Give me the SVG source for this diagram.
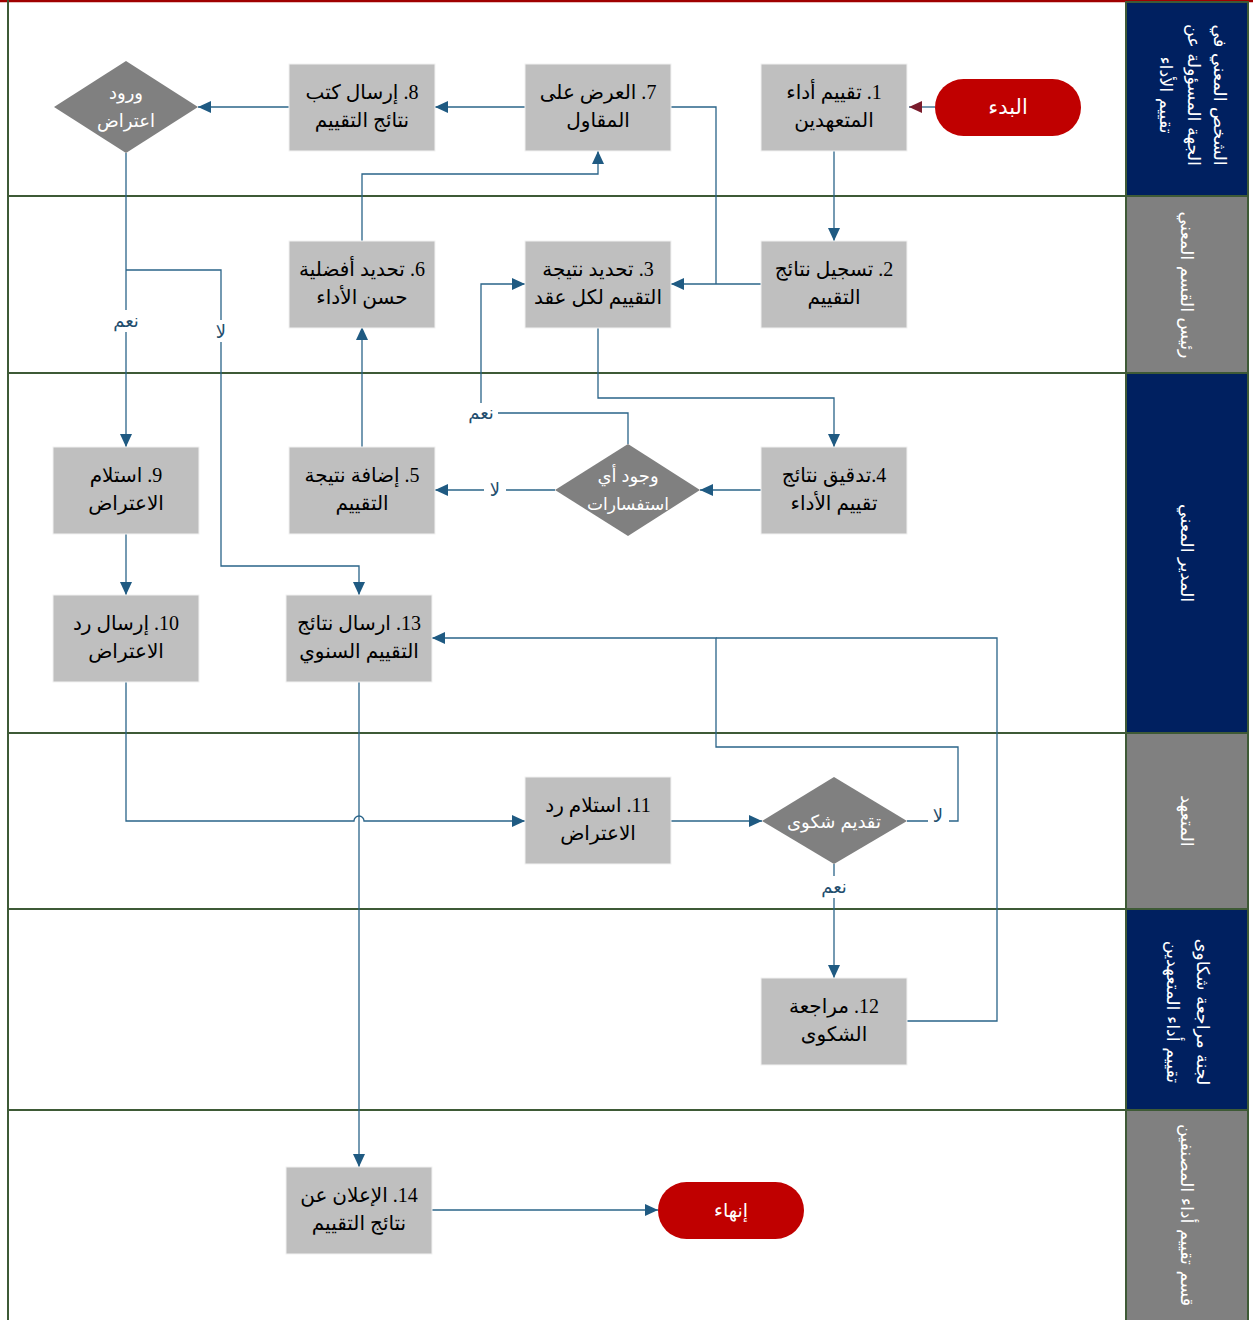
<svg xmlns="http://www.w3.org/2000/svg" width="1253" height="1320" viewBox="0 0 1253 1320">
<style>
.lane{fill:#ffffff}
.div{stroke:#3e5a36;stroke-width:2;fill:none}
.hdrN{fill:#002060;stroke:#3e5a36;stroke-width:2}
.hdrG{fill:#808080;stroke:#3e5a36;stroke-width:2}
.hdrT{fill:#ffffff;font-family:"DejaVu Sans","Noto Sans",sans-serif;font-size:17.5px;text-anchor:middle}
.box{fill:#bfbfbf;stroke:#f2f2f2;stroke-width:1}
.boxT{fill:#000000;font-family:"Liberation Serif","DejaVu Sans",serif;font-size:20px;text-anchor:middle}
.dia{fill:#808080}
.diaT{fill:#ffffff;font-family:"Liberation Sans","DejaVu Sans",sans-serif;font-size:18px;text-anchor:middle}
.term{fill:#c00000}
.termT{fill:#ffffff;font-family:"DejaVu Sans","Liberation Sans",sans-serif;font-size:21px;text-anchor:middle}
.con{fill:none;stroke:#2a6489;stroke-width:1.3}
.lbl{fill:#1f4e6e;font-family:"DejaVu Sans","Liberation Sans",sans-serif;font-size:18px;text-anchor:middle}
.lblbg{fill:#ffffff}
</style>
<defs>
<marker id="arr" markerUnits="userSpaceOnUse" markerWidth="14" markerHeight="12" refX="13" refY="6" orient="auto">
<path d="M0,0 L13,6 L0,12 Z" fill="#1f5a82"/>
</marker>
<marker id="arrR" markerUnits="userSpaceOnUse" markerWidth="14" markerHeight="12" refX="13" refY="6" orient="auto">
<path d="M0,0 L13,6 L0,12 Z" fill="#7a1c2c"/>
</marker>
</defs>
<rect x="0" y="0" width="1253" height="1320" fill="#ffffff"/>
<g id="lanes">
<line x1="0" y1="1" x2="1253" y2="1" stroke="#a00000" stroke-width="2.5"/>
<line x1="8" y1="0" x2="8" y2="1320" class="div"/>
<line x1="8" y1="196" x2="1248" y2="196" class="div"/>
<line x1="8" y1="373" x2="1248" y2="373" class="div"/>
<line x1="8" y1="733" x2="1248" y2="733" class="div"/>
<line x1="8" y1="909" x2="1248" y2="909" class="div"/>
<line x1="8" y1="1110" x2="1248" y2="1110" class="div"/>
<rect x="1126" y="2" width="122" height="194" class="hdrN"/>
<rect x="1126" y="196" width="122" height="177" class="hdrG"/>
<rect x="1126" y="373" width="122" height="360" class="hdrN"/>
<rect x="1126" y="733" width="122" height="176" class="hdrG"/>
<rect x="1126" y="909" width="122" height="201" class="hdrN"/>
<rect x="1126" y="1110" width="122" height="212" class="hdrG"/>
<text class="hdrT" direction="rtl" transform="translate(1187,95) rotate(90)"><tspan x="0" y="-27">الشخص المعني في</tspan><tspan x="0" y="-1">الجهة المسؤولة عن</tspan><tspan x="0" y="27">تقييم الأداء</tspan></text>
<text class="hdrT" direction="rtl" transform="translate(1187,285) rotate(90)"><tspan x="0" y="6">رئيس القسم المعني</tspan></text>
<text class="hdrT" direction="rtl" transform="translate(1187,553) rotate(90)"><tspan x="0" y="6">المدير المعني</tspan></text>
<text class="hdrT" direction="rtl" transform="translate(1187,821) rotate(90)"><tspan x="0" y="6">المتعهد</tspan></text>
<text class="hdrT" direction="rtl" transform="translate(1187,1012) rotate(90)"><tspan x="0" y="-10">لجنة مراجعة شكاوى</tspan><tspan x="0" y="20">تقييم أداء المتعهدين</tspan></text>
<text class="hdrT" direction="rtl" transform="translate(1187,1215) rotate(90)"><tspan x="0" y="6">قسم تقييم أداء المصنفين</tspan></text>
</g>
<g id="connectors">
<path class="con" d="M935,107 H909" marker-end="url(#arrR)" stroke="#7a1c2c"/>
<path class="con" d="M834,151 V241" marker-end="url(#arr)"/>
<path class="con" d="M761,284 H671" marker-end="url(#arr)"/>
<path class="con" d="M671,107 H716 V284"/>
<path class="con" d="M598,327 V398 H834 V447" marker-end="url(#arr)"/>
<path class="con" d="M761,490 H700" marker-end="url(#arr)"/>
<path class="con" d="M555,490 H435" marker-end="url(#arr)"/>
<path class="con" d="M628,444 V413 H481 V284 H525" marker-end="url(#arr)"/>
<path class="con" d="M362,447 V327" marker-end="url(#arr)"/>
<path class="con" d="M362,241 V174 H598 V151" marker-end="url(#arr)"/>
<path class="con" d="M525,107 H435" marker-end="url(#arr)"/>
<path class="con" d="M289,107 H198" marker-end="url(#arr)"/>
<path class="con" d="M126,153 V447" marker-end="url(#arr)"/>
<path class="con" d="M126,270 H221 V566 H359 V595" marker-end="url(#arr)"/>
<path class="con" d="M126,533 V595" marker-end="url(#arr)"/>
<path class="con" d="M126,681 V821 H354 A5,5 0 0 1 364,821 H525" marker-end="url(#arr)"/>
<path class="con" d="M671,821 H762" marker-end="url(#arr)"/>
<path class="con" d="M907,821 H958 V747 H716 V638 H432" marker-end="url(#arr)"/>
<path class="con" d="M907,1021 H997 V638 H716"/>
<path class="con" d="M834,864 V978" marker-end="url(#arr)"/>
<path class="con" d="M359,681 V1167" marker-end="url(#arr)"/>
<path class="con" d="M432,1210 H658" marker-end="url(#arr)"/>
<rect class="lblbg" x="484" y="478" width="22" height="22"/>
<text class="lbl" x="495" y="496">لا</text>
<rect class="lblbg" x="464" y="403" width="34" height="21"/>
<text class="lbl" x="481" y="419">نعم</text>
<rect class="lblbg" x="108" y="310" width="36" height="22"/>
<text class="lbl" x="126" y="327">نعم</text>
<rect class="lblbg" x="211" y="320" width="20" height="22"/>
<text class="lbl" x="221" y="338">لا</text>
<rect class="lblbg" x="928" y="806" width="21" height="22"/>
<text class="lbl" x="938" y="822">لا</text>
<rect class="lblbg" x="816" y="876" width="36" height="22"/>
<text class="lbl" x="834" y="893">نعم</text>
</g>
<g id="start"><rect class="term" x="935" y="79" width="146" height="57" rx="28.5"/><text class="termT" direction="rtl" x="1008" y="114">البدء</text></g>
<g id="end"><rect class="term" x="658" y="1182" width="146" height="57" rx="28.5"/><text class="termT" direction="rtl" x="731" y="1217" style="font-size:19px">إنهاء</text></g>
<g id="n1"><rect class="box" x="761" y="64" width="146" height="87"/><text class="boxT" direction="rtl"><tspan x="834" y="99">1. تقييم أداء</tspan><tspan x="834" y="127">المتعهدين</tspan></text></g>
<g id="n2"><rect class="box" x="761" y="241" width="146" height="87"/><text class="boxT" direction="rtl"><tspan x="834" y="276">2. تسجيل نتائج</tspan><tspan x="834" y="304">التقييم</tspan></text></g>
<g id="n3"><rect class="box" x="525" y="241" width="146" height="87"/><text class="boxT" direction="rtl"><tspan x="598" y="276">3. تحديد نتيجة</tspan><tspan x="598" y="304">التقييم لكل عقد</tspan></text></g>
<g id="n4"><rect class="box" x="761" y="447" width="146" height="87"/><text class="boxT" direction="rtl"><tspan x="834" y="482">4.تدقيق نتائج</tspan><tspan x="834" y="510">تقييم الأداء</tspan></text></g>
<g id="n5"><rect class="box" x="289" y="447" width="146" height="87"/><text class="boxT" direction="rtl"><tspan x="362" y="482">5. إضافة نتيجة</tspan><tspan x="362" y="510">التقييم</tspan></text></g>
<g id="n6"><rect class="box" x="289" y="241" width="146" height="87"/><text class="boxT" direction="rtl"><tspan x="362" y="276">6. تحديد أفضلية</tspan><tspan x="362" y="304">حسن الأداء</tspan></text></g>
<g id="n7"><rect class="box" x="525" y="64" width="146" height="87"/><text class="boxT" direction="rtl"><tspan x="598" y="99">7. العرض على</tspan><tspan x="598" y="127">المقاول</tspan></text></g>
<g id="n8"><rect class="box" x="289" y="64" width="146" height="87"/><text class="boxT" direction="rtl"><tspan x="362" y="99">8. إرسال كتب</tspan><tspan x="362" y="127">نتائج التقييم</tspan></text></g>
<g id="n9"><rect class="box" x="53" y="447" width="146" height="87"/><text class="boxT" direction="rtl"><tspan x="126" y="482">9. استلام</tspan><tspan x="126" y="510">الاعتراض</tspan></text></g>
<g id="n10"><rect class="box" x="53" y="595" width="146" height="87"/><text class="boxT" direction="rtl"><tspan x="126" y="630">10. إرسال رد</tspan><tspan x="126" y="658">الاعتراض</tspan></text></g>
<g id="n11"><rect class="box" x="525" y="777" width="146" height="87"/><text class="boxT" direction="rtl"><tspan x="598" y="812">11. استلام رد</tspan><tspan x="598" y="840">الاعتراض</tspan></text></g>
<g id="n12"><rect class="box" x="761" y="978" width="146" height="87"/><text class="boxT" direction="rtl"><tspan x="834" y="1013">12. مراجعة</tspan><tspan x="834" y="1041">الشكوى</tspan></text></g>
<g id="n13"><rect class="box" x="286" y="595" width="146" height="87"/><text class="boxT" direction="rtl"><tspan x="359" y="630">13. ارسال نتائج</tspan><tspan x="359" y="658">التقييم السنوي</tspan></text></g>
<g id="n14"><rect class="box" x="286" y="1167" width="146" height="87"/><text class="boxT" direction="rtl"><tspan x="359" y="1202">14. الإعلان عن</tspan><tspan x="359" y="1230">نتائج التقييم</tspan></text></g>
<g id="d1"><path class="dia" d="M126,61 L198,107 L126,153 L54,107 Z"/><text class="diaT" direction="rtl"><tspan x="126" y="99">ورود</tspan><tspan x="126" y="127">اعتراض</tspan></text></g>
<g id="d2"><path class="dia" d="M628,444 L700,490 L628,536 L555,490 Z"/><text class="diaT" direction="rtl"><tspan x="628" y="482">وجود أي</tspan><tspan x="628" y="510" style="font-size:17px">استفسارات</tspan></text></g>
<g id="d3"><path class="dia" d="M834,777 L907,821 L834,864 L762,821 Z"/><text class="diaT" direction="rtl"><tspan x="834" y="828">تقديم شكوى</tspan></text></g>
</svg>
